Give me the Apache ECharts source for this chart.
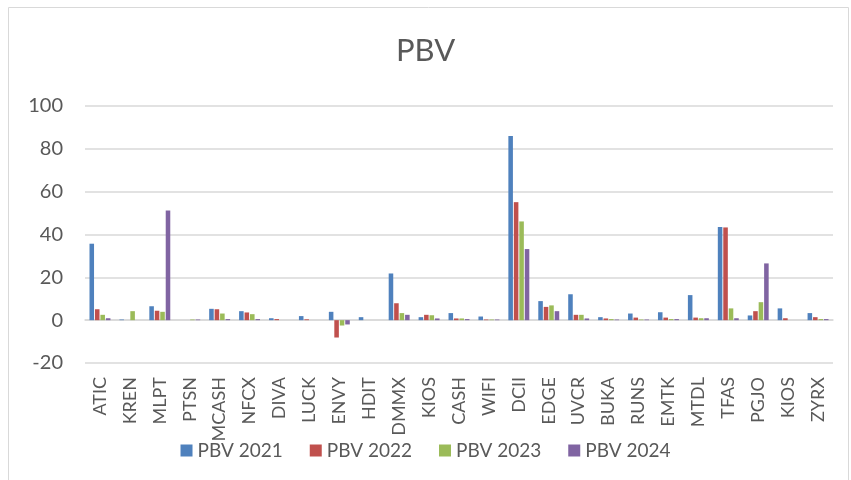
<!DOCTYPE html>
<html>
<head>
<meta charset="utf-8">
<script src="https://cdn.jsdelivr.net/npm/echarts@6/dist/echarts.min.js"></script>
<style>
    html,body{margin:0;padding:0;background:#fff;}
    #chart{width:851px;height:480px;}
</style>
</head>
<body>
<div id="chart"></div>
<script>
    //分类
    var categories = ['ATIC','KREN','MLPT','PTSN','MCASH','NFCX','DIVA','LUCK','ENVY','HDIT','DMMX','KIOS','CASH','WIFI','DCII','EDGE','UVCR','BUKA','RUNS','EMTK','MTDL','TFAS','PGJO','KIOS','ZYRX'];
    //各年PBV
    var pbv2021 = [35.7,0.3,6.5,0,5.3,4.2,0.9,1.9,3.9,1.4,21.8,1.4,3.3,1.7,86,8.9,12.1,1.4,3.1,3.7,11.7,43.5,2.2,5.5,3.3];
    var pbv2022 = [5.1,0,4.4,0,5.1,3.6,0.5,0.4,-8.1,0,7.9,2.5,0.8,0.3,55.1,6.2,2.5,0.8,1.2,1.2,1.2,43.3,4.2,0.9,1.4];
    var pbv2023 = [2.5,4.2,3.9,0.3,3.1,2.8,0,0,-2.5,0,3.3,2.3,0.8,0.3,46.1,6.9,2.5,0.5,0.3,0.5,0.9,5.5,8.4,0,0.5];
    var pbv2024 = [0.9,0,51.2,0.3,0.5,0.5,0,0,-2.0,0,2.5,0.8,0.5,0.3,33.2,4.2,0.8,0.3,0.3,0.5,0.9,0.9,26.5,0,0.5];
    //Y轴刻度
    var yTicks = [-20,0,20,40,60,80,100];

    var seriesNames = ['PBV 2021','PBV 2022','PBV 2023','PBV 2024'];
    var seriesData = [pbv2021,pbv2022,pbv2023,pbv2024];
    var colors = ['#4F81BD','#C0504D','#9BBB59','#8064A2'];
    var font = 'Lato, "Open Sans", sans-serif';

    var chart = echarts.init(document.getElementById('chart'));
    chart.setOption({
        animation:false,
        color:colors,
        graphic:[{
            type:'rect',
            shape:{x:8.5,y:7.5,width:840,height:490},
            style:{fill:'none',stroke:'#d9d9d9',lineWidth:1},
            silent:true
        }],
        title:{
            text:'PBV',
            left:'center',
            top:30,
            textStyle:{fontFamily:font,fontSize:31,fontWeight:'normal',color:'#595959'}
        },
        legend:{
            data:seriesNames,
            left:'center',
            top:436,
            itemWidth:12,
            itemHeight:12,
            itemGap:27,
            icon:'rect',
            textStyle:{fontFamily:font,fontSize:19,color:'#595959'}
        },
        grid:{left:85,right:18,top:106,bottom:117,containLabel:false},
        xAxis:{
            type:'category',
            data:categories,
            axisLine:{onZero:true,lineStyle:{color:'#d9d9d9',width:1.5}},
            axisTick:{show:false},
            axisLabel:{
                rotate:90,
                interval:0,
                margin:14,
                fontFamily:font,
                fontSize:18,
                color:'#595959'
            }
        },
        yAxis:{
            type:'value',
            min:yTicks[0],
            max:yTicks[yTicks.length-1],
            interval:20,
            axisLine:{show:false},
            axisTick:{show:false},
            splitLine:{lineStyle:{color:'#d9d9d9',width:1.5}},
            axisLabel:{margin:22,fontFamily:font,fontSize:20,color:'#595959'}
        },
        series:seriesData.map(function(d,i){
            return {
                name:seriesNames[i],
                type:'bar',
                data:d,
                barGap:'20%',
                barCategoryGap:'30%'
            };
        })
    });
</script>
</body>
</html>
